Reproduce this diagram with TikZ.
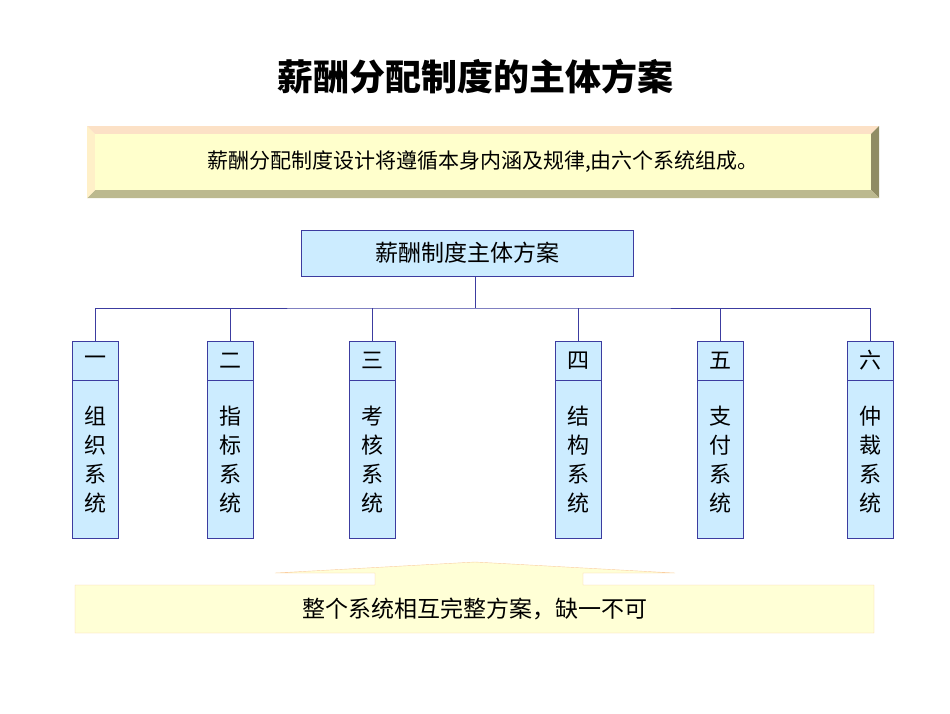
\documentclass[tikz,border=0pt]{standalone}
\usepackage{fontspec}
\setmainfont{Noto Sans CJK SC}
\usetikzlibrary{positioning}
\definecolor{boxblue}{RGB}{204,236,255}
\definecolor{lineblue}{RGB}{60,60,160}
\definecolor{paleyellow}{RGB}{255,255,204}
\definecolor{edgeorange}{RGB}{250,205,160}
\begin{document}
\begin{tikzpicture}[x=1pt,y=-1pt,
            rootbox/.style={rectangle, draw=lineblue, fill=boxblue, minimum width=332pt, minimum height=46pt, font=\fontsize{23}{23}\selectfont},
            headbox/.style={rectangle, draw=lineblue, fill=boxblue, minimum width=46pt, minimum height=39pt, font=\fontsize{22}{22}\selectfont},
            bodybox/.style={rectangle, draw=lineblue, fill=boxblue, minimum width=46pt, minimum height=158pt, align=center, font=\fontsize{22}{29}\selectfont},
        ]
            \useasboundingbox (0,0) rectangle (950,713);
            %Title
            \node[font=\fontsize{36}{36}\selectfont\bfseries] (title) at (475,77) {薪酬分配制度的主体方案};

            %Banner
            \fill[paleyellow!70!orange!30] (87,126) rectangle (879,198);
            \fill[edgeorange!60!white] (87,126) -- (879,126) -- (871,134) -- (95,134) -- cycle;
            \fill[gray!70!olive] (879,126) -- (879,198) -- (871,190) -- (871,134) -- cycle;
            \fill[olive!40!gray!60] (87,198) -- (879,198) -- (871,190) -- (95,190) -- cycle;
            \fill[paleyellow!80!orange!60] (87,126) -- (95,134) -- (95,190) -- (87,198) -- cycle;
            \node[rectangle, fill=paleyellow, minimum width=776pt, minimum height=56pt, font=\fontsize{21}{21}\selectfont] (intro) at (483,162) {薪酬分配制度设计将遵循本身内涵及规律,由六个系统组成。};

            %Nodes
            \node[rootbox] (root) at (467,253) {薪酬制度主体方案};
            \coordinate (bus) at (475,308);
            \foreach \x/\n/\h/\a/\b [count=\i] in {95/one/一/组/织, 230/two/二/指/标, 372/three/三/考/核, 578/four/四/结/构, 720/five/五/支/付, 870/six/六/仲/裁} {
                \node[headbox] (\n) at (\x,360.5) {\h};
                \node[bodybox, below=0pt of \n] (\n b) {\a\\\b\\系\\统};
            }

            %Lines
            \draw[lineblue] (root.south -| bus) -- (bus);
            \draw[lineblue] (one.north) |- (bus) -| (six.north);
            \foreach \n in {two,three,four,five} {
                \draw[lineblue] (\n.north) -- (\n.north |- bus);
            }

            %Bottom arrow
            \draw[edgeorange, fill=paleyellow!80!white] (75,585) -- (375,585) -- (375,573) -- (275,573) -- (475,562) -- (675,573) -- (583,573) -- (583,585) -- (874,585) -- (874,633) -- (75,633) -- cycle;
            \node[font=\fontsize{23}{23}\selectfont] (summary) at (475,609) {整个系统相互完整方案，缺一不可};
        \end{tikzpicture}
\end{document}
